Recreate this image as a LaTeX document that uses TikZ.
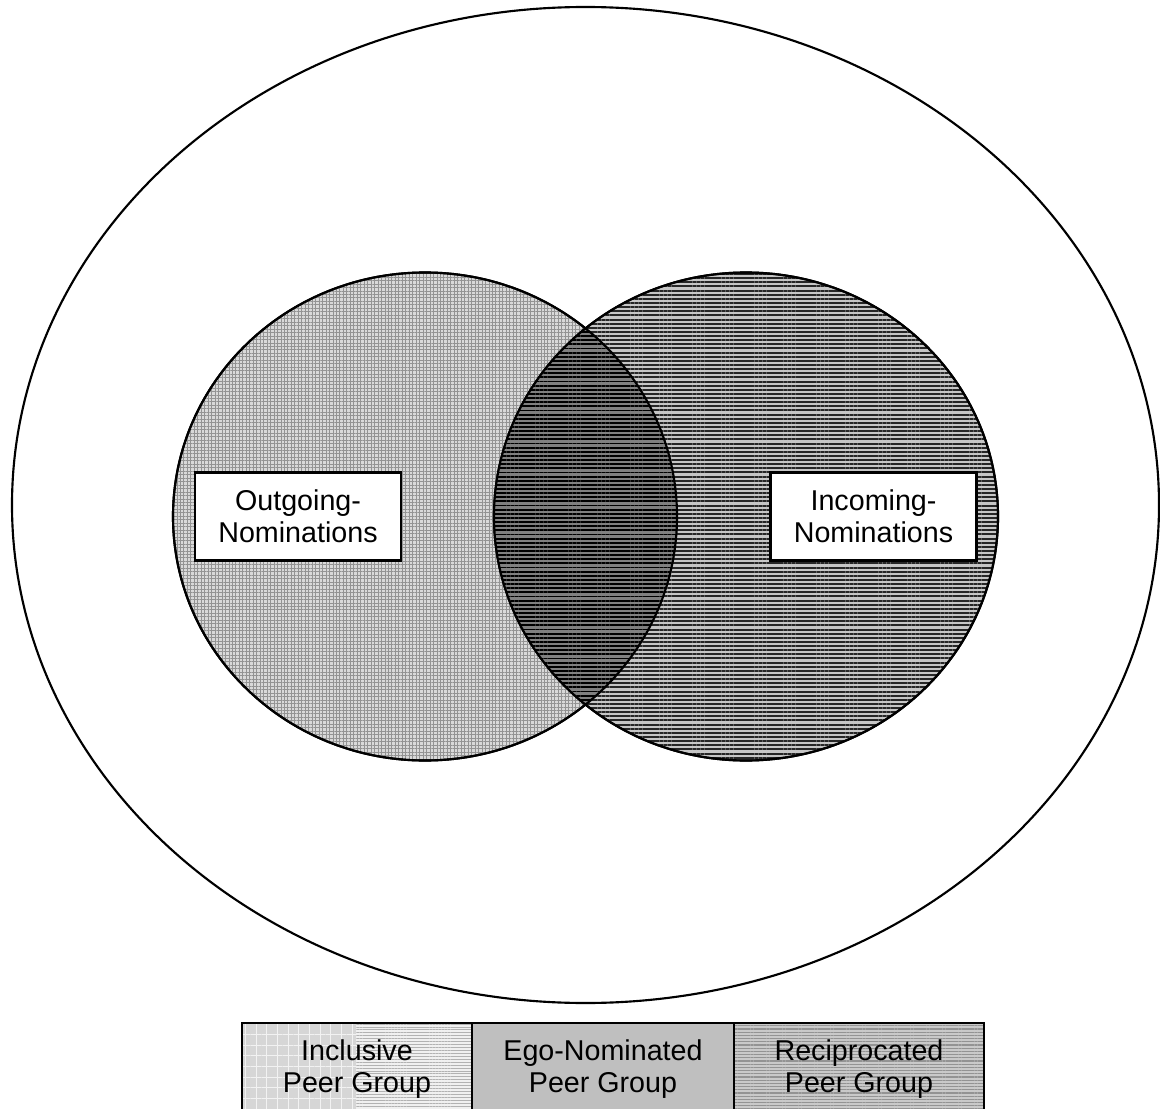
\documentclass[tikz,border=0pt]{standalone}
\usepackage{fontspec}
\setmainfont{Liberation Sans}
\usetikzlibrary{patterns.meta,positioning}
\tikzset{
  outgrid/.style={preaction={fill=gray!30}, pattern={Hatch[angle=0,distance=2.6pt,line width=0.45pt]}, pattern color=gray!85},
  inlines/.style={preaction={fill=gray!45}, pattern={Lines[angle=0,distance=3.1pt,line width=1.5pt]}, pattern color=black!85},
  bothfill/.style={preaction={fill=black!50}, pattern={Lines[angle=0,distance=3.1pt,line width=1.4pt]}, pattern color=black},
  inclgrid/.style={preaction={fill=gray!32}, pattern={Hatch[angle=0,distance=8pt,line width=0.6pt]}, pattern color=white!90!gray},
  incllines/.style={preaction={fill=gray!12}, pattern={Lines[angle=0,distance=2.2pt,line width=0.5pt]}, pattern color=gray!60},
  reclines/.style={preaction={fill=gray!42}, pattern={Lines[angle=0,distance=2.4pt,line width=0.8pt]}, pattern color=gray!85},
  rim/.style={line width=1.6pt},
}
\begin{document}
\begin{tikzpicture}[x=0.75pt,y=-0.75pt]
        \useasboundingbox (0,0) rectangle (1160,1109);
        % universe
        \draw[rim] (585.5,505) ellipse [x radius=573.5, y radius=498];
        % the two groups
        \filldraw[rim, outgrid] (425,516.5) ellipse [x radius=252, y radius=244];
        \filldraw[rim, inlines] (746,516.5) ellipse [x radius=252, y radius=244];
        \begin{scope}
            \clip (425,516.5) ellipse [x radius=252, y radius=244];
            \fill[bothfill] (746,516.5) ellipse [x radius=252, y radius=244];
        \end{scope}
        \draw[rim] (425,516.5) ellipse [x radius=252, y radius=244];
        \draw[rim] (746,516.5) ellipse [x radius=252, y radius=244];
        \begin{scope}
            \tikzstyle{every node}=[fill=white, draw=black, line width=1.6pt, align=center,
                font=\fontsize{21.5}{24}\selectfont, minimum width=154.5pt, minimum height=66pt]
            \node (out) at (298,516.5) {Outgoing-\\Nominations};
            \node (in) at (873.5,516.5) {Incoming-\\Nominations};
        \end{scope}
        % legend
        \fill[inclgrid] (242,1023) rectangle (356,1115);
        \fill[incllines] (356,1023) rectangle (472,1115);
        \begin{scope}
            \tikzstyle{every node}=[draw=black, line width=1.6pt, align=center, outer sep=0pt,
                font=\fontsize{21.5}{23.5}\selectfont, minimum height=69pt]
            \node[minimum width=172.5pt] (incl) at (357,1069) {Inclusive\\Peer Group};
            \node[minimum width=196.5pt, fill=gray!50, right=0pt of incl] (ego) {Ego-Nominated\\Peer Group};
            \node[minimum width=187.5pt, reclines, right=0pt of ego] (rec) {Reciprocated\\Peer Group};
        \end{scope}
    \end{tikzpicture}
\end{document}
